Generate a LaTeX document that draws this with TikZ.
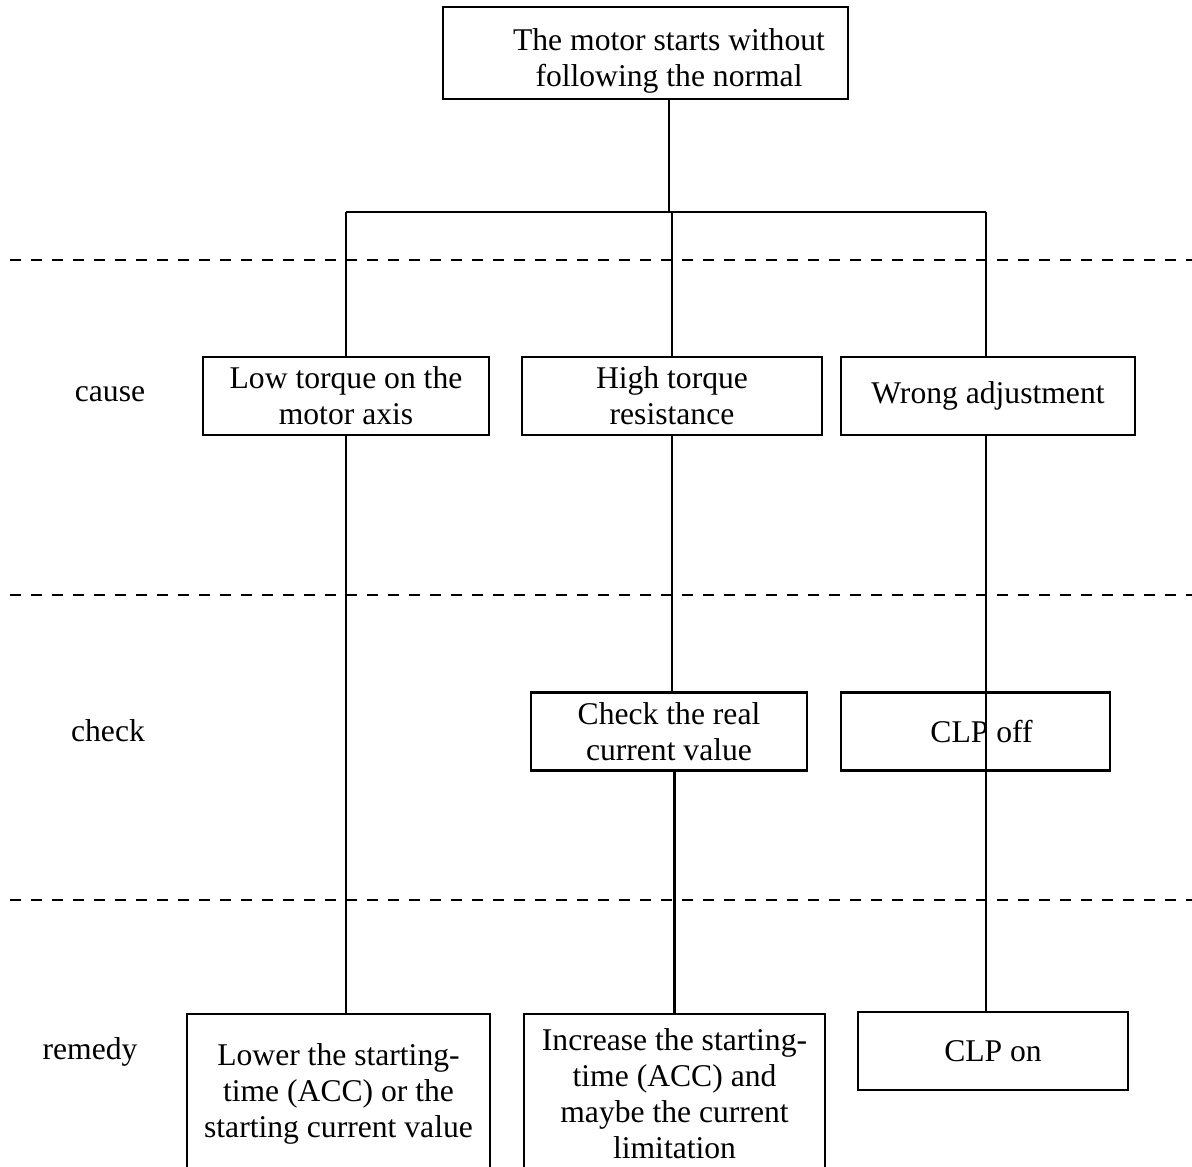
\documentclass[tikz,border=0pt]{standalone}
\usepackage{fontspec}
\setmainfont{Liberation Serif}
\usetikzlibrary{positioning}

\begin{document}
\begin{tikzpicture}[x=0.02cm,y=-0.02cm,line width=1.3pt,
  b/.style={draw,line width=1.3pt,minimum height=1.56cm,align=center,inner sep=0pt,font=\fontsize{18}{20.5}\selectfont},
  lbl/.style={font=\fontsize{18}{20.5}\selectfont},
  sep/.style={dash pattern=on 0.22cm off 0.2cm,line width=1.3pt}]
\useasboundingbox (0,0) rectangle (1192,1166);
\clip (0,0) rectangle (1192,1166);
% levels
\draw[sep] (10,260)--(1192,260);
\draw[sep] (10,595)--(1192,595);
\draw[sep] (10,900)--(1192,900);
\node[lbl] (lcause) at (110,394) {cause};
\node[lbl] (lcheck) at (108,731) {check};
\node[lbl] (lremedy) at (90,1052) {remedy};
% fault
\node[b,minimum width=8.1cm,minimum height=1.84cm] (top) at (645.5,53) {};
\node[lbl,align=center] (toptext) at (669,61) {The motor starts without\\following the normal};
% causes
\node[b,minimum width=5.72cm] (low) at (346,396) {Low torque on the\\motor axis};
\node[b,minimum width=6cm] (high) at (672,396) {High torque\\resistance};
\node[b,minimum width=5.88cm] (wrong) at (988,396) {Wrong adjustment};
% checks
\node[b,minimum width=5.52cm] (chk) at (669,731.5) {Check the real\\current value};
\node[b,minimum width=5.38cm] (clpoff) at (975.5,731.5) {\hspace*{0.24cm}CLP off};
% remedies
\node[b,minimum width=6.06cm,minimum height=3.2cm,anchor=north] (lower) at (338.5,1013) {Lower the starting-\\time (ACC) or the\\starting current value};
\node[b,minimum width=6.02cm,minimum height=3.2cm,anchor=north] (incr) at (674.5,1013) {Increase the starting-\\time (ACC) and\\maybe the current\\limitation};
\node[b,minimum width=5.4cm] (clpon) at (993,1051) {CLP on};
% tree
\coordinate (jl) at (346,212);
\coordinate (jr) at (986,212);
\draw (toptext |- top.south) -- (toptext |- jl);
\draw (jl) -- (jr);
\draw (jl) -- (jl |- low.north);
\draw (high.north |- jl) -- (high.north);
\draw (jr) -- (jr |- wrong.north);
\draw (low.south) -- (low.south |- lower.north);
\draw (high.south) -- (high.south |- chk.north);
\draw (incr.north |- chk.south) -- (incr.north);
\draw (jr |- wrong.south) -- (jr |- clpon.north);
\end{tikzpicture}
\end{document}
